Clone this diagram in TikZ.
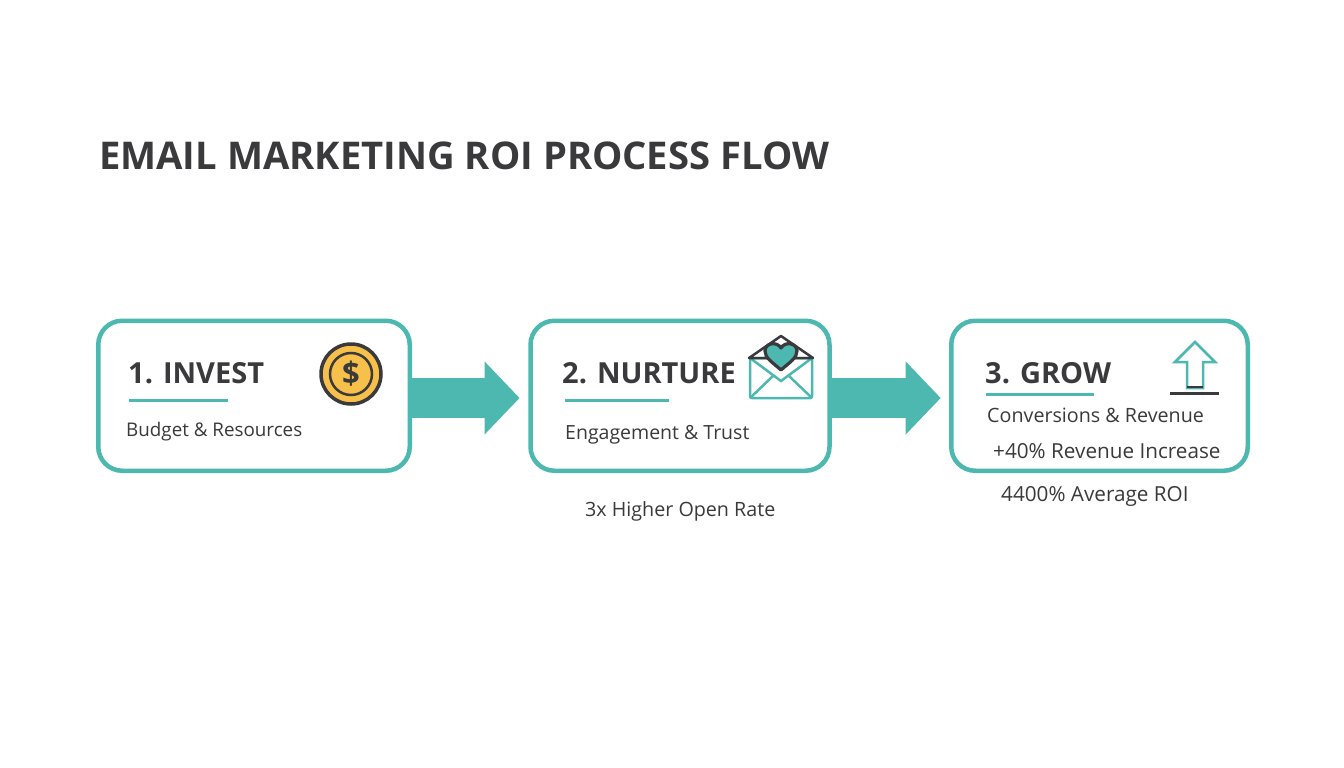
\documentclass[tikz,border=0pt]{standalone}
\usepackage{xcolor}
\usepackage{fontspec}
\setmainfont{Open Sans}
\usetikzlibrary{positioning, arrows.meta, calc}
\definecolor{tealmain}{HTML}{4DB8B0}
\definecolor{inkdark}{HTML}{3A3A3C}
\definecolor{coinfill}{HTML}{F7C04A}

\begin{document}
\begin{tikzpicture}[
        x=1pt, y=-1pt,
        stagebox/.style={rectangle, draw=tealmain, line width=4.5pt, rounded corners=24pt, fill=white, minimum height=150pt, inner sep=0pt},
        heading/.style={anchor=west, text=inkdark, inner sep=0pt, font=\fontsize{29}{32}\selectfont\bfseries},
        detail/.style={anchor=west, text=inkdark, inner sep=0pt, font=\fontsize{#1}{22}\selectfont},
        rule/.style={draw=tealmain, line width=3pt},
        flow/.style={draw=tealmain, line width=40pt, -{Triangle[length=35pt, width=71pt]}}
    ]
    \useasboundingbox[fill=white] (0,0) rectangle (1344,768);

    \node[anchor=west, text=inkdark, inner sep=0pt, font=\fontsize{38.2}{42}\selectfont\bfseries] (title) at (99,156) {EMAIL MARKETING ROI PROCESS FLOW};

    % process boxes
    \node[stagebox, minimum width=311.5pt] (invest) at (254,395.75) {};
    \node[stagebox, minimum width=299pt] (nurture) at (680,395.75) {};
    \node[stagebox, minimum width=296.5pt] (grow) at (1099.5,395.75) {};

    \draw[flow, shorten >=8.7pt] ($(invest.east)+(0,2.25)$) -- ($(nurture.west)+(0,2.25)$);
    \draw[flow, shorten >=8.3pt] ($(nurture.east)+(0,2.25)$) -- ($(grow.west)+(0,2.25)$);

    % first box
    \node[heading] (investhead) at (128,373) {1. INVEST};
    \coordinate (investrulea) at (129,400);
    \coordinate (investruleb) at (228,400);
    \draw[rule] (investrulea) -- (investruleb);
    \node[detail=18.8] (investtext) at (126,431.5) {Budget \& Resources};

    \node[circle, draw=inkdark, line width=3.5pt, fill=coinfill, minimum size=60pt, inner sep=0pt] (coin) at (351,374) {};
    \node[circle, draw=inkdark, line width=2.5pt, minimum size=42pt, inner sep=0pt, text=inkdark, font=\fontsize{31}{33}\selectfont\bfseries] (coinmark) at (351,374) {\$};

    % second box
    \node[heading] (nurturehead) at (562,373) {2. NURTURE};
    \coordinate (nurturerulea) at (565,400);
    \coordinate (nurtureruleb) at (669,400);
    \draw[rule] (nurturerulea) -- (nurtureruleb);
    \node[detail=19.5] (nurturetext) at (565,434.5) {Engagement \& Trust};
    \node[detail=19.7] (opentext) at (585,511.5) {3x Higher Open Rate};

    \draw[tealmain, line width=2.5pt, rounded corners=2pt, fill=white] (750,358) rectangle (812,398);
    \draw[tealmain, line width=2.5pt] (750,358) -- (781,381) -- (812,358);
    \draw[tealmain, line width=2.5pt] (750,398) -- (773,376);
    \draw[tealmain, line width=2.5pt] (812,398) -- (789,376);
    \draw[inkdark, line width=2.5pt, line join=round] (749,358) -- (781,336) -- (813,358) -- cycle;
    \fill[white] (766,354) rectangle (796,358);
    \draw[inkdark, line width=3.2pt, fill=tealmain, line join=round] (781,370)
        .. controls (772,362) and (765,358) .. (765,351)
        .. controls (765,343) and (777,341) .. (781,348)
        .. controls (785,341) and (797,343) .. (797,351)
        .. controls (797,358) and (790,362) .. (781,370) -- cycle;

    % third box
    \node[heading] (growhead) at (985,373) {3. GROW};
    \coordinate (growrulea) at (986,394);
    \coordinate (growruleb) at (1094,394);
    \draw[rule] (growrulea) -- (growruleb);
    \node[detail=19.7] (growtext) at (987,415.5) {Conversions \& Revenue};
    \node[detail=20.7] (revenuetext) at (993,451.5) {+40\% Revenue Increase};
    \node[detail=20.7] (roitext) at (1001,496.5) {4400\% Average ROI};

    \draw[tealmain, line width=2.5pt, line join=miter] (1195,342) -- (1215,362) -- (1203,362) -- (1203,388) -- (1187,388) -- (1187,362) -- (1175,362) -- cycle;
    \draw[inkdark, line width=2.5pt] (1187,387) -- (1203,387);
    \draw[inkdark, line width=3pt] (1170,393.5) -- (1219,393.5);
\end{tikzpicture}
\end{document}
